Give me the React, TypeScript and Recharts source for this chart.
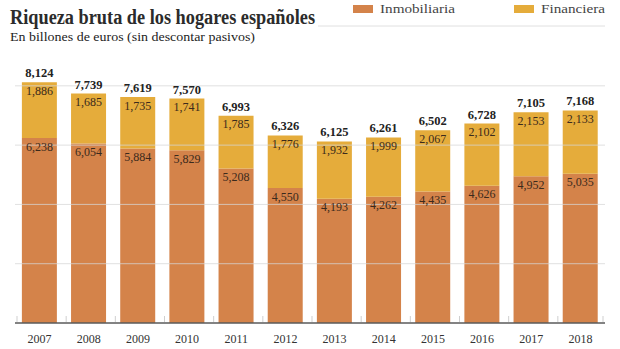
import { Bar, BarChart, LabelList, ReferenceLine, XAxis, YAxis } from "recharts";

const years = ["2007", "2008", "2009", "2010", "2011", "2012", "2013", "2014", "2015", "2016", "2017", "2018"];
const inmobiliaria = [6238, 6054, 5884, 5829, 5208, 4550, 4193, 4262, 4435, 4626, 4952, 5035];
const financiera = [1886, 1685, 1735, 1741, 1785, 1776, 1932, 1999, 2067, 2102, 2153, 2133];
const gridTicks = [2000, 4000, 6000, 8000];

const ORANGE = "#d4834a";
const GOLD = "#e5ac3b";
const SERIF = "'Liberation Serif', 'DejaVu Serif', serif";

const data = years.map((year, i) => ({
  year,
  inmobiliaria: inmobiliaria[i],
  financiera: financiera[i],
  total: inmobiliaria[i] + financiera[i],
}));

const fmt = (v: any) => Number(v).toLocaleString("en-US");

// year label plus the small ticks between categories
const YearTick = (props: any) => {
  const { x, y, payload, index } = props;
  const half = payload?.offset ?? 24.6;
  return (
    <g>
      <line x1={x - half + 2} x2={x - half + 2} y1={y - 7} y2={y - 1} stroke="#cfcfcf" />
      {index === years.length - 1 && (
        <line x1={x + half - 2} x2={x + half - 2} y1={y - 7} y2={y - 1} stroke="#cfcfcf" />
      )}
      <text x={x} y={y + 20} textAnchor="middle" fontFamily={SERIF} fontSize={12} fill="#333">
        {payload.value}
      </text>
    </g>
  );
};

export default function App() {
  return (
    <div style={{ position: "absolute", left: 0, top: 0, width: 620, height: 349, background: "#fff" }}>
      <BarChart
        width={620}
        height={349}
        data={data}
        margin={{ top: 71, right: 15, bottom: 0, left: 15 }}
        barCategoryGap="14%"
      >
        <XAxis
          dataKey="year"
          height={26}
          tickLine={false}
          tickSize={0}
          tickMargin={0}
          axisLine={{ stroke: "#5a5a5a", strokeWidth: 1.5 }}
          tick={<YearTick />}
          interval={0}
        />
        <YAxis hide domain={[0, 8500]} />
        <Bar dataKey="inmobiliaria" stackId="a" fill={ORANGE} isAnimationActive={false}>
          <LabelList
            dataKey="inmobiliaria"
            position="insideTop"
            offset={4}
            formatter={fmt}
            style={{ fontFamily: SERIF, fontSize: 12, fill: "#3b2a1c" }}
          />
        </Bar>
        <Bar dataKey="financiera" stackId="a" fill={GOLD} isAnimationActive={false}>
          <LabelList
            dataKey="financiera"
            position="insideTop"
            offset={4}
            formatter={fmt}
            style={{ fontFamily: SERIF, fontSize: 12, fill: "#3b2a1c" }}
          />
          <LabelList
            dataKey="total"
            position="top"
            offset={5}
            formatter={fmt}
            style={{ fontFamily: SERIF, fontSize: 12.5, fontWeight: 700, fill: "#222" }}
          />
        </Bar>
        {gridTicks.map((t) => (
          <ReferenceLine key={t} y={t} stroke="#d6d6d6" strokeOpacity={0.75} />
        ))}
      </BarChart>
      <svg
        width={620}
        height={349}
        style={{ position: "absolute", left: 0, top: 0, pointerEvents: "none" }}
      >
        <text x={10} y={24} fontFamily={SERIF} fontSize={20} fontWeight={700} fill="#2b2b2b" textLength={305} lengthAdjust="spacingAndGlyphs">
          Riqueza bruta de los hogares españoles
        </text>
        <text x={10} y={41} fontFamily={SERIF} fontSize={13} fill="#222" textLength={245} lengthAdjust="spacingAndGlyphs">
          En billones de euros (sin descontar pasivos)
        </text>
        <rect x={353} y={5} width={20} height={8} fill={ORANGE} />
        <text x={380} y={13} fontFamily={SERIF} fontSize={13} fill="#444" textLength={75} lengthAdjust="spacingAndGlyphs">
          Inmobiliaria
        </text>
        <rect x={514} y={5} width={20} height={8} fill={GOLD} />
        <text x={541} y={13} fontFamily={SERIF} fontSize={13} fill="#444" textLength={64} lengthAdjust="spacingAndGlyphs">
          Financiera
        </text>
        <line x1={318} x2={605} y1={26} y2={26} stroke="#e0e0e0" />
      </svg>
    </div>
  );
}
